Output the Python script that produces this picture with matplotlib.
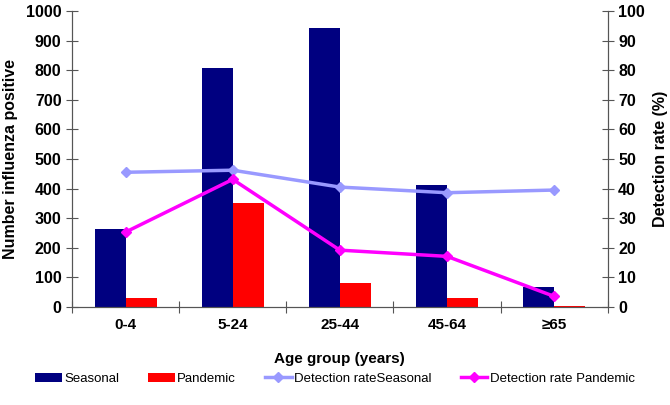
import numpy as np
import matplotlib.pyplot as plt

plt.rcParams['font.family'] = ['Liberation Sans', 'DejaVu Sans']

# data
age_groups = ["0-4", "5-24", "25-44", "45-64", "≥65"]
seasonal = [264, 807, 943, 413, 68]
pandemic = [32, 352, 81, 31, 4]
rate_seasonal = [45.5, 46.2, 40.5, 38.6, 39.5]
rate_pandemic = [25.3, 43.1, 19.2, 17.1, 3.6]

fig = plt.figure(figsize=(6.7, 4.05), dpi=100)
ax = fig.add_axes([0.1075, 0.242, 0.7995, 0.731])
x = np.arange(len(age_groups))
w = 0.29

b1 = ax.bar(x - w / 2, seasonal, w, color='#000080', label='Seasonal')
b2 = ax.bar(x + w / 2, pandemic, w, color='#FF0000', label='Pandemic')
ax.set_xlim(-0.5, len(age_groups) - 0.5)
ax.set_ylim(0, 1000)
ax.set_yticks(range(0, 1001, 100))

ax2 = ax.twinx()
l1, = ax2.plot(x, rate_seasonal, color='#9999FF', lw=2.5, marker='D', ms=5,
               label='Detection rateSeasonal')
l2, = ax2.plot(x, rate_pandemic, color='#FF00FF', lw=2.5, marker='D', ms=5,
               label='Detection rate Pandemic')
ax2.set_ylim(0, 100)
ax2.set_yticks(range(0, 101, 10))

# x ticks sit between groups, labels in the middle
ax.set_xticks(np.arange(-0.5, len(age_groups), 1))
ax.set_xticklabels([])
ax.set_xticks(x, minor=True)
ax.set_xticklabels(age_groups, minor=True, fontsize=11, fontweight='bold')
ax.tick_params(axis='x', which='minor', length=0, pad=8)
ax.tick_params(axis='x', which='major', direction='inout', length=8, color='#555555')
ax.tick_params(axis='y', direction='inout', length=8, color='#555555',
               labelsize=11.5)
ax2.tick_params(axis='y', direction='inout', length=8, color='#555555',
                labelsize=11.5)
for t in ax.get_yticklabels() + ax2.get_yticklabels():
    t.set_fontweight('bold')

for a in (ax, ax2):
    a.spines['top'].set_visible(False)
    for s in ('left', 'right', 'bottom'):
        a.spines[s].set_color('#555555')

ax.set_ylabel('Number influenza positive', fontsize=11.5, fontweight='bold', labelpad=6)
ax2.set_ylabel('Detection rate (%)', fontsize=11.5, fontweight='bold', labelpad=6)
ax.set_xlabel('Age group (years)', fontsize=11, fontweight='bold', labelpad=14)

fig.legend(handles=[b1, b2, l1, l2], loc='center', bbox_to_anchor=(0.5, 0.065),
           ncol=4, frameon=False, fontsize=9.5, handlelength=2.0, columnspacing=2.2,
           handletextpad=0.2)

fig.savefig('out.png', dpi=100)
